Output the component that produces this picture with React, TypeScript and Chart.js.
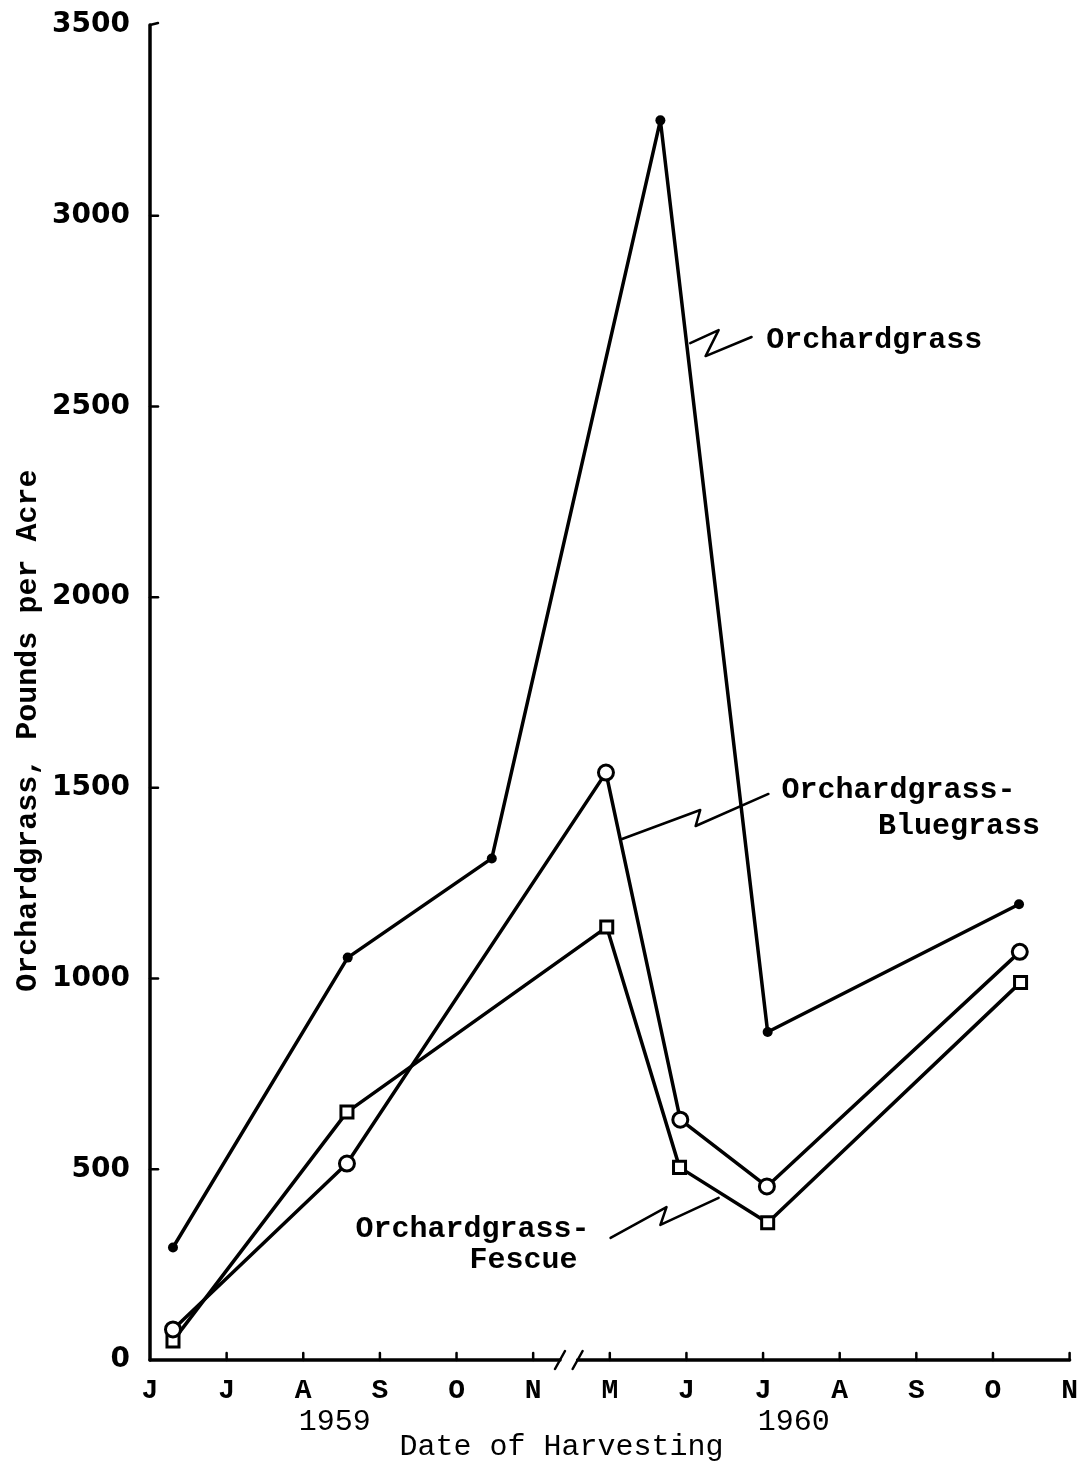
import React, { useEffect, useRef } from "react";
import { Chart, registerables } from "chart.js";
Chart.register(...registerables);

// Month index 0..12 : J J A S O N (1959) // M J J A S O N (1960)
const monthLabels = ["J", "J", "A", "S", "O", "N", "M", "J", "J", "A", "S", "O", "N"];
const yTickValues = [0, 500, 1000, 1500, 2000, 2500, 3000, 3500];

const orchardX = [0.3, 2.58, 4.46, 6.66, 8.06, 11.34];
const orchardY = [295, 1055, 1315, 3250, 860, 1195];

const bluegrassX = [0.3, 2.57, 5.95, 6.92, 8.05, 11.35];
const bluegrassY = [80, 515, 1540, 630, 455, 1070];

const fescueX = [0.3, 2.57, 5.96, 6.91, 8.06, 11.36];
const fescueY = [50, 650, 1135, 505, 360, 990];

const yearLabels = ["1959", "1960"];
const yearPos = [2.41, 8.4];

const MONO = "'Liberation Mono', 'DejaVu Sans Mono', monospace";

const toPts = (xs: number[], ys: number[]) => xs.map((x, i) => ({ x, y: ys[i] }));

const decorPlugin = {
  id: "decor",
  afterDraw(chart: any) {
    const { ctx, chartArea } = chart;
    const xs = chart.scales.x;
    const ys = chart.scales.y;
    const X = (v: number) => xs.getPixelForValue(v);
    const Y = (v: number) => ys.getPixelForValue(v);
    const left = chartArea.left;
    const bottom = chartArea.bottom;
    ctx.save();
    ctx.strokeStyle = "#000";
    ctx.fillStyle = "#000";
    ctx.lineCap = "round";
    ctx.lineJoin = "round";

    // y axis line
    ctx.lineWidth = 3.5;
    ctx.beginPath();
    ctx.moveTo(left, bottom);
    ctx.lineTo(left, Y(3500));
    ctx.stroke();
    // y inward ticks
    ctx.lineWidth = 2.5;
    yTickValues.forEach((v) => {
      if (v === 0) return;
      ctx.beginPath();
      ctx.moveTo(left, Y(v));
      ctx.lineTo(left + 8, Y(v) - (v === 3500 ? 2 : 0));
      ctx.stroke();
    });

    // x axis with break between N (5) and M (6)
    const b1 = X(5.35);
    const b2 = X(5.58);
    ctx.lineWidth = 3.5;
    ctx.beginPath();
    ctx.moveTo(left, bottom);
    ctx.lineTo(b1, bottom);
    ctx.moveTo(b2, bottom);
    ctx.lineTo(X(12), bottom);
    ctx.stroke();
    ctx.lineWidth = 2.5;
    [b1, b2].forEach((bx) => {
      ctx.beginPath();
      ctx.moveTo(bx - 5, bottom + 9);
      ctx.lineTo(bx + 5, bottom - 9);
      ctx.stroke();
    });
    for (let m = 1; m <= 12; m++) {
      ctx.beginPath();
      ctx.moveTo(X(m), bottom);
      ctx.lineTo(X(m), bottom - 7);
      ctx.stroke();
    }

    // year labels
    ctx.font = `30px ${MONO}`;
    ctx.textAlign = "center";
    ctx.textBaseline = "middle";
    yearLabels.forEach((t, i) => ctx.fillText(t, X(yearPos[i]), bottom + 62));

    // x axis title
    ctx.font = `30px ${MONO}`;
    ctx.fillText("Date of Harvesting", X(5.37), bottom + 87);

    // y axis title
    ctx.save();
    ctx.translate(28, Y(1650));
    ctx.rotate(-Math.PI / 2);
    ctx.font = `bold 30px ${MONO}`;
    ctx.fillText("Orchardgrass, Pounds per Acre", 0, 0);
    ctx.restore();

    // leader lines
    const leaders = [
      [[7.05, 2666], [7.42, 2700], [7.25, 2632], [7.85, 2682]],
      [[6.16, 1366], [7.18, 1442], [7.12, 1400], [8.07, 1484]],
      [[6.01, 320], [6.74, 401], [6.66, 354], [7.42, 425]],
    ];
    ctx.lineWidth = 2.5;
    leaders.forEach((pts) => {
      ctx.beginPath();
      pts.forEach(([m, v], i) => (i ? ctx.lineTo(X(m), Y(v)) : ctx.moveTo(X(m), Y(v))));
      ctx.stroke();
    });

    // annotation labels
    ctx.font = `bold 30px ${MONO}`;
    ctx.textAlign = "left";
    const notes: [string, number, number][] = [
      ["Orchardgrass", 8.04, 2674],
      ["Orchardgrass-", 8.24, 1492],
      ["Bluegrass", 9.5, 1400],
      ["Orchardgrass-", 2.68, 343],
      ["Fescue", 4.17, 260],
    ];
    notes.forEach(([t, m, v]) => ctx.fillText(t, X(m), Y(v)));
    ctx.restore();
  },
};

export default function App() {
  const ref = useRef<HTMLCanvasElement | null>(null);
  useEffect(() => {
    document.body.style.margin = "0";
    const canvas = ref.current;
    if (!canvas) return;
    const common = {
      borderColor: "#000",
      borderWidth: 3.5,
      borderJoinStyle: "round" as const,
      borderCapStyle: "round" as const,
      showLine: true,
      tension: 0,
      fill: false,
      pointBorderColor: "#000",
      pointHoverRadius: 0,
    };
    const chart = new Chart(canvas, {
      type: "scatter",
      data: {
        datasets: [
          {
            ...common,
            label: "Orchardgrass",
            data: toPts(orchardX, orchardY),
            pointStyle: "circle",
            pointRadius: 5,
            pointBackgroundColor: "#000",
            pointBorderWidth: 0,
          },
          {
            ...common,
            label: "Orchardgrass-Bluegrass",
            data: toPts(bluegrassX, bluegrassY),
            pointStyle: "circle",
            pointRadius: 7.5,
            pointBackgroundColor: "#fff",
            pointBorderWidth: 3,
          },
          {
            ...common,
            label: "Orchardgrass-Fescue",
            data: toPts(fescueX, fescueY),
            pointStyle: "rect",
            pointRadius: 8.5,
            pointBackgroundColor: "#fff",
            pointBorderWidth: 3,
          },
        ],
      },
      options: {
        responsive: false,
        animation: false,
        clip: false as any,
        layout: { padding: { top: 25, right: 20, left: 0, bottom: 0 } },
        plugins: { legend: { display: false }, tooltip: { enabled: false } },
        scales: {
          x: {
            type: "linear",
            min: 0,
            max: 12,
            grid: { display: false, drawTicks: false },
            border: { display: false },
            afterBuildTicks: (s: any) => {
              s.ticks = monthLabels.map((_, i) => ({ value: i }));
            },
            afterFit: (s: any) => {
              s.height = 104;
            },
            ticks: {
              autoSkip: false,
              maxRotation: 0,
              padding: 14,
              color: "#000",
              font: { family: MONO, size: 28, weight: "bold" },
              callback: (v: any) => monthLabels[Math.round(v)] ?? "",
            },
          },
          y: {
            type: "linear",
            min: 0,
            max: 3500,
            grid: { display: false, drawTicks: false },
            border: { display: false },
            afterBuildTicks: (s: any) => {
              s.ticks = yTickValues.map((v) => ({ value: v }));
            },
            afterFit: (s: any) => {
              s.width = 150;
              s.paddingTop = 0;
              s.paddingBottom = 0;
            },
            ticks: {
              padding: 20,
              color: "#000",
              font: { family: "'DejaVu Sans', sans-serif", size: 28, weight: "bold" },
              callback: (v: any) => String(v),
            },
          },
        },
      },
      plugins: [decorPlugin],
    });
    return () => chart.destroy();
  }, []);
  return (
    <div style={{ width: 1092, height: 1464, background: "#fff" }}>
      <canvas ref={ref} width={1092} height={1464} />
    </div>
  );
}
